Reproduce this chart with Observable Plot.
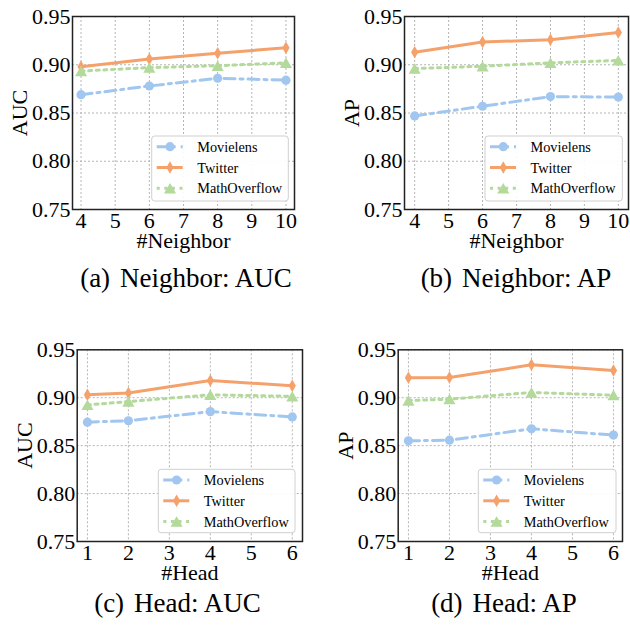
<!DOCTYPE html>
<html><head><meta charset="utf-8">
<script src="https://cdn.jsdelivr.net/npm/d3@7"></script>
<script src="https://cdn.jsdelivr.net/npm/@observablehq/plot@0.6"></script>
<style>
body{margin:0;background:#fff;}
#root{position:relative;width:630px;height:625px;overflow:hidden;font-family:"Liberation Serif","Times New Roman",serif;}
.panel{position:absolute;}
#caps{position:absolute;left:0;top:0;pointer-events:none;}
</style></head><body><div id="root"></div>
<script>
// ---- data ----
const series = ["Movielens", "Twitter", "MathOverflow"];
const neighbors = [4, 6, 8, 10];
const heads = [1, 2, 4, 6];
const neighborTicks = [4, 5, 6, 7, 8, 9, 10];
const headTicks = [1, 2, 3, 4, 5, 6];
const yTicks = [0.75, 0.80, 0.85, 0.90, 0.95];

const neighborAUC_Movielens = [0.869, 0.878, 0.886, 0.884];
const neighborAUC_Twitter = [0.898, 0.906, 0.912, 0.9175];
const neighborAUC_MathOverflow = [0.8935, 0.897, 0.899, 0.902];

const neighborAP_Movielens = [0.847, 0.857, 0.867, 0.8665];
const neighborAP_Twitter = [0.913, 0.9235, 0.926, 0.9335];
const neighborAP_MathOverflow = [0.896, 0.8985, 0.902, 0.9045];

const headAUC_Movielens = [0.8745, 0.876, 0.8855, 0.880];
const headAUC_Twitter = [0.903, 0.905, 0.918, 0.9125];
const headAUC_MathOverflow = [0.8925, 0.896, 0.903, 0.9015];

const headAP_Movielens = [0.855, 0.8557, 0.8676, 0.861];
const headAP_Twitter = [0.9208, 0.9211, 0.9343, 0.9284];
const headAP_MathOverflow = [0.897, 0.8985, 0.9055, 0.9027];

const captions = [["(a)", "Neighbor: AUC"], ["(b)", "Neighbor: AP"], ["(c)", "Head: AUC"], ["(d)", "Head: AP"]];

// ---- styles ----
const style = {
  Movielens: {color: "#a1c6ef", dash: "11,5,3,5", symbol: "circle", r: 4.6, dy: 0},
  Twitter: {color: "#f5a16b", dash: null, symbol: "diamond", r: 3.8, dy: 0},
  MathOverflow: {color: "#b3d99b", dash: "3,4.6", symbol: "triangle", r: 4.5, dy: 1.7}
};
const FONT = '"Liberation Serif","Times New Roman",serif';

function makePanel(cfg) {
  const rows = [];
  series.forEach((s, i) => cfg.xs.forEach((x, j) => rows.push({series: s, x, y: cfg.values[i][j]})));
  const marks = [
    Plot.gridX(cfg.xTicks, {stroke: "#b4b4b4", strokeOpacity: 1, strokeDasharray: "2,2", strokeWidth: 1}),
    Plot.gridY(yTicks, {stroke: "#b4b4b4", strokeOpacity: 1, strokeDasharray: "2,2", strokeWidth: 1}),
    Plot.axisX(cfg.xTicks, {tickSize: 0, tickPadding: 3, fontSize: 22, tickFormat: d => String(d),
      label: cfg.xLabel, labelAnchor: "center", labelArrow: "none", labelOffset: 38}),
    Plot.axisY(yTicks, {tickSize: 0, tickPadding: 2, fontSize: 22, tickFormat: d => d.toFixed(2),
      label: cfg.yLabel, labelAnchor: "center", labelArrow: "none", labelOffset: 61})
  ];
  for (const s of series) {
    const st = style[s];
    const d = rows.filter(r => r.series === s);
    marks.push(Plot.line(d, {x: "x", y: "y", stroke: st.color, strokeWidth: 3, strokeDasharray: st.dash}));
  }
  for (const s of series) {
    const st = style[s];
    const d = rows.filter(r => r.series === s);
    marks.push(Plot.dot(d, {x: "x", y: "y", symbol: st.symbol, r: st.r, fill: st.color, stroke: "none", dy: st.dy}));
  }
  marks.push(Plot.frame({stroke: "#222", strokeWidth: 1.5}));
  const svg = Plot.plot({
    width: cfg.width, height: cfg.height,
    marginLeft: cfg.mL, marginRight: cfg.mR, marginTop: cfg.mT, marginBottom: cfg.mB,
    x: {domain: cfg.xDomain},
    y: {domain: [0.75, 0.95]},
    style: {fontFamily: FONT, color: "#000", background: "transparent", overflow: "visible"},
    marks
  });
  // legend
  const g = d3.select(svg).append("g").attr("font-family", FONT).attr("text-anchor", "start");
  const [lx, ly, lw, lh] = cfg.legend;
  g.append("rect").attr("x", lx).attr("y", ly).attr("width", lw).attr("height", lh)
    .attr("rx", 3).attr("fill", "#fff").attr("fill-opacity", 0.92).attr("stroke", "#d0d0d0").attr("stroke-width", 1);
  series.forEach((s, i) => {
    const st = style[s];
    const yy = ly + 10.7 + i * 20.8;
    g.append("line").attr("x1", lx + 5).attr("x2", lx + 31).attr("y1", yy).attr("y2", yy)
      .attr("stroke", st.color).attr("stroke-width", 3).attr("stroke-dasharray", st.dash);
    const sym = {circle: d3.symbolCircle, diamond: d3.symbolDiamond, triangle: d3.symbolTriangle}[st.symbol];
    g.append("path").attr("d", d3.symbol(sym, Math.PI * st.r * st.r)())
      .attr("transform", `translate(${lx + 18.3},${yy + st.dy})`).attr("fill", st.color);
    g.append("text").attr("x", lx + 45.5).attr("y", yy).attr("dy", "0.35em")
      .attr("text-anchor", "start").attr("font-size", 14.3).attr("fill", "#000").text(s);
  });
  const wrap = document.createElement("div");
  wrap.className = "panel";
  wrap.style.left = cfg.left + "px";
  wrap.style.top = cfg.top + "px";
  wrap.appendChild(svg);
  document.getElementById("root").appendChild(wrap);
}

makePanel({left: 0, top: 0, width: 315, height: 262, mL: 72, mR: 21, mT: 16, mB: 53,
  xs: neighbors, xTicks: neighborTicks, xDomain: [3.75, 10.25], xLabel: "#Neighbor", yLabel: "AUC",
  values: [neighborAUC_Movielens, neighborAUC_Twitter, neighborAUC_MathOverflow],
  legend: [151.7, 136, 136.6, 65]});
makePanel({left: 315, top: 0, width: 315, height: 262, mL: 89, mR: 2, mT: 16, mB: 53,
  xs: neighbors, xTicks: neighborTicks, xDomain: [3.7, 10.3], xLabel: "#Neighbor", yLabel: "AP",
  values: [neighborAP_Movielens, neighborAP_Twitter, neighborAP_MathOverflow],
  legend: [170, 136, 137.3, 65]});
makePanel({left: 0, top: 310, width: 315, height: 284, mL: 76.7, mR: 13, mT: 39.3, mB: 53,
  xs: heads, xTicks: headTicks, xDomain: [0.75, 6.25], xLabel: "#Head", yLabel: "AUC",
  values: [headAUC_Movielens, headAUC_Twitter, headAUC_MathOverflow],
  legend: [158.3, 159.3, 136.7, 63.4]});
makePanel({left: 315, top: 310, width: 315, height: 284, mL: 82.7, mR: 8, mT: 39.3, mB: 53,
  xs: heads, xTicks: headTicks, xDomain: [0.75, 6.22], xLabel: "#Head", yLabel: "AP",
  values: [headAP_Movielens, headAP_Twitter, headAP_MathOverflow],
  legend: [163.3, 159.3, 137.7, 63.4]});

// captions
const capSvg = d3.select("#root").append("svg").attr("id", "caps").attr("width", 630).attr("height", 625);
const capPos = [[186, 287], [516, 287], [177.5, 611.7], [504, 611.7]];
captions.forEach((c, i) => {
  const t = capSvg.append("text").attr("x", capPos[i][0]).attr("y", capPos[i][1])
    .attr("text-anchor", "middle").attr("font-family", FONT).attr("font-size", 27).attr("fill", "#000");
  t.append("tspan").text(c[0]);
  t.append("tspan").attr("dx", 10).text(c[1]);
});
</script></body></html>
